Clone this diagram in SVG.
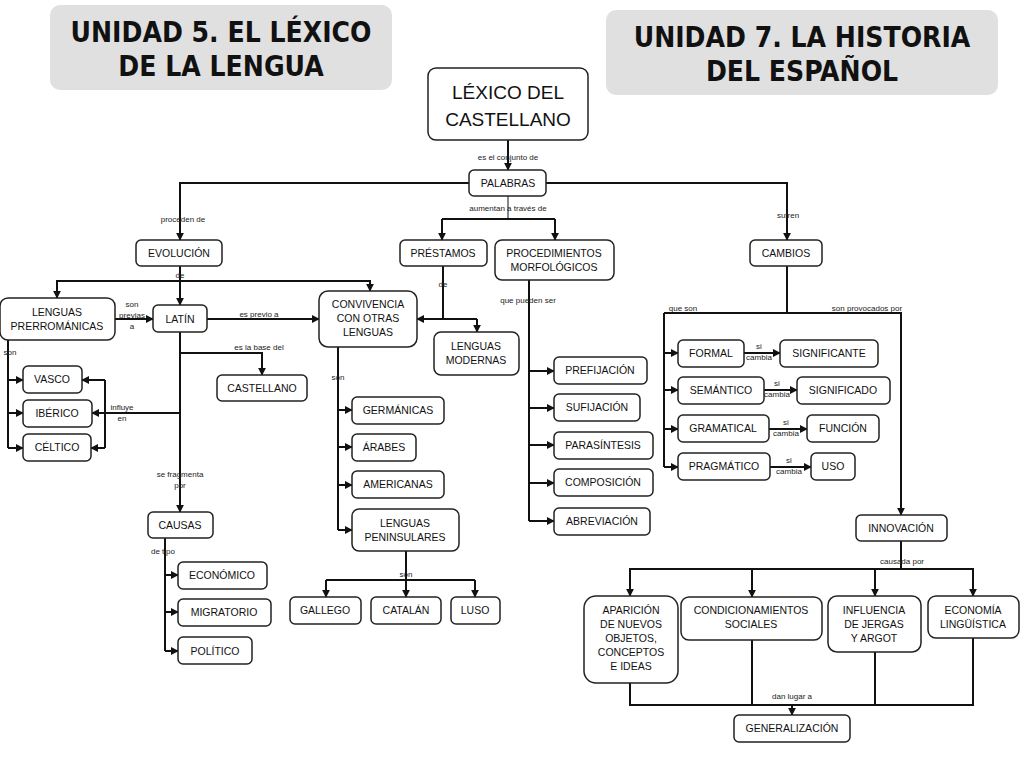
<svg xmlns="http://www.w3.org/2000/svg" width="1024" height="768" viewBox="0 0 1024 768">
<style>
.t{fill:#e0e0e0;stroke:none}
.tt{font-family:"DejaVu Sans Condensed","DejaVu Sans",sans-serif;font-weight:bold;font-size:28px;text-anchor:middle;fill:#111}
.n rect{fill:#fff;stroke:#222;stroke-width:1.5}
.n text{font-family:"Liberation Sans",Arial,sans-serif;font-size:10.5px;text-anchor:middle;fill:#111}
.big text{font-size:19px}
#c path{fill:none;stroke:#111;stroke-width:2}
#c .thin{stroke-width:1}
.l{font-family:"Liberation Sans",Arial,sans-serif;font-size:8px;text-anchor:middle;fill:#222}
</style>
<defs><marker id="a" viewBox="0 0 10 10" refX="9" refY="5" markerWidth="4" markerHeight="4" orient="auto"><path d="M0,0L10,5L0,10z" fill="#111"/></marker></defs>
<rect width="1024" height="768" fill="#fff"/>
<g id="title1"><rect class="t" x="50" y="5" width="342" height="85" rx="10"/><text class="tt" x="221" y="42">UNIDAD 5. EL LÉXICO</text><text class="tt" x="221" y="76">DE LA LENGUA</text></g>
<g id="title2"><rect class="t" x="606" y="10" width="392" height="85" rx="10"/><text class="tt" x="802" y="47">UNIDAD 7. LA HISTORIA</text><text class="tt" x="802" y="81">DEL ESPAÑOL</text></g>
<g id="c">
<path d="M508,140V170" marker-end="url(#a)"/>
<path d="M469,183H180V240" marker-end="url(#a)"/>
<path d="M546,183H787V240" marker-end="url(#a)"/>
<path class="thin" d="M508,196V219"/>
<path d="M442,219H555"/>
<path d="M442,219V240" marker-end="url(#a)"/>
<path d="M555,219V240" marker-end="url(#a)"/>
<path d="M180,266V305" marker-end="url(#a)"/>
<path d="M57,298V281H370V291" marker-end="url(#a)"/>
<path d="M57,281V298" marker-end="url(#a)"/>
<path d="M115,319H153" marker-end="url(#a)"/>
<path d="M207,319H319" marker-end="url(#a)"/>
<path d="M180,332V512" marker-end="url(#a)"/>
<path d="M180,353H262V375" marker-end="url(#a)"/>
<path d="M180,413H92" marker-end="url(#a)"/>
<path d="M105,380V448"/>
<path d="M105,380H82" marker-end="url(#a)"/>
<path d="M105,448H91" marker-end="url(#a)"/>
<path d="M8,340V448"/>
<path d="M8,380H23" marker-end="url(#a)"/>
<path d="M8,413H23" marker-end="url(#a)"/>
<path d="M8,448H23" marker-end="url(#a)"/>
<path d="M165,538V651"/>
<path d="M165,575H178" marker-end="url(#a)"/>
<path d="M165,612H178" marker-end="url(#a)"/>
<path d="M165,651H178" marker-end="url(#a)"/>
<path d="M338,347V530"/>
<path d="M338,410H352" marker-end="url(#a)"/>
<path d="M338,447H352" marker-end="url(#a)"/>
<path d="M338,485H352" marker-end="url(#a)"/>
<path d="M338,530H352" marker-end="url(#a)"/>
<path d="M406,551V597" marker-end="url(#a)"/>
<path d="M326,580H475"/>
<path d="M326,580V597" marker-end="url(#a)"/>
<path d="M475,580V597" marker-end="url(#a)"/>
<path d="M443,266V319"/>
<path d="M477,319H417" marker-end="url(#a)"/>
<path d="M477,319V332" marker-end="url(#a)"/>
<path d="M529,280V521"/>
<path d="M529,371H554" marker-end="url(#a)"/>
<path d="M529,408H554" marker-end="url(#a)"/>
<path d="M529,445H554" marker-end="url(#a)"/>
<path d="M529,483H554" marker-end="url(#a)"/>
<path d="M529,521H554" marker-end="url(#a)"/>
<path d="M787,266V313"/>
<path d="M664,313H901V515" marker-end="url(#a)"/>
<path d="M664,313V467"/>
<path d="M664,353H678" marker-end="url(#a)"/>
<path d="M664,390H678" marker-end="url(#a)"/>
<path d="M664,429H678" marker-end="url(#a)"/>
<path d="M664,467H678" marker-end="url(#a)"/>
<path d="M744,353H780" marker-end="url(#a)"/>
<path d="M764,390H797" marker-end="url(#a)"/>
<path d="M769,429H807" marker-end="url(#a)"/>
<path d="M770,467H811" marker-end="url(#a)"/>
<path d="M901,541V569"/>
<path d="M630,596V569H973V596" marker-end="url(#a)"/>
<path d="M630,569V596" marker-end="url(#a)"/>
<path d="M752,569V597" marker-end="url(#a)"/>
<path d="M875,569V596" marker-end="url(#a)"/>
<path d="M630,683V705H973V638"/>
<path d="M752,640V705"/>
<path d="M875,652V705"/>
<path d="M792,705V715" marker-end="url(#a)"/>
</g>
<g id="labels">
<text class="l" x="508" y="160">es el conjunto de</text>
<text class="l" x="183" y="222">proceden de</text>
<text class="l" x="788" y="218">sufren</text>
<text class="l" x="508" y="211">aumentan a través de</text>
<text class="l" x="180" y="278">de</text>
<text class="l" x="132" y="307">son</text><text class="l" x="132" y="318">previas</text><text class="l" x="132" y="329">a</text>
<text class="l" x="259" y="317">es previo a</text>
<text class="l" x="259" y="350">es la base del</text>
<text class="l" x="122" y="410">influye</text><text class="l" x="122" y="421">en</text>
<text class="l" x="10" y="355">son</text>
<text class="l" x="180" y="477">se fragmenta</text><text class="l" x="180" y="488">por</text>
<text class="l" x="163" y="554">de tipo</text>
<text class="l" x="338" y="380">son</text>
<text class="l" x="406" y="577">son</text>
<text class="l" x="443" y="287">de</text>
<text class="l" x="528" y="303">que pueden ser</text>
<text class="l" x="683" y="311">que son</text>
<text class="l" x="867" y="311">son provocados por</text>
<text class="l" x="759" y="349">si</text><text class="l" x="759" y="360">cambia</text>
<text class="l" x="777" y="386">si</text><text class="l" x="777" y="397">cambia</text>
<text class="l" x="786" y="425">si</text><text class="l" x="786" y="436">cambia</text>
<text class="l" x="789" y="463">si</text><text class="l" x="789" y="474">cambia</text>
<text class="l" x="902" y="564">causada por</text>
<text class="l" x="792" y="699">dan lugar a</text>
</g>
<g id="lexico" class="n big"><rect x="428" y="68" width="160" height="72" rx="8"/><text x="508" y="99">LÉXICO DEL</text><text x="508" y="126">CASTELLANO</text></g>
<g id="palabras" class="n"><rect x="469" y="170" width="77" height="26" rx="5"/><text x="508" y="187">PALABRAS</text></g>
<g id="evolucion" class="n"><rect x="136" y="240" width="86" height="26" rx="5"/><text x="179" y="257">EVOLUCIÓN</text></g>
<g id="prestamos" class="n"><rect x="400" y="240" width="87" height="26" rx="5"/><text x="443" y="257">PRÉSTAMOS</text></g>
<g id="procedimientos" class="n"><rect x="495" y="240" width="119" height="40" rx="7"/><text x="554" y="257">PROCEDIMIENTOS</text><text x="554" y="271">MORFOLÓGICOS</text></g>
<g id="cambios" class="n"><rect x="750" y="240" width="72" height="26" rx="5"/><text x="786" y="257">CAMBIOS</text></g>
<g id="prerromanicas" class="n"><rect x="0" y="298" width="115" height="42" rx="8"/><text x="57" y="316">LENGUAS</text><text x="57" y="330">PRERROMÁNICAS</text></g>
<g id="latin" class="n"><rect x="153" y="305" width="54" height="27" rx="5"/><text x="180" y="323">LATÍN</text></g>
<g id="convivencia" class="n"><rect x="319" y="291" width="98" height="56" rx="9"/><text x="368" y="308">CONVIVENCIA</text><text x="368" y="322">CON OTRAS</text><text x="368" y="336">LENGUAS</text></g>
<g id="modernas" class="n"><rect x="434" y="332" width="85" height="43" rx="7"/><text x="476" y="350">LENGUAS</text><text x="476" y="364">MODERNAS</text></g>
<g id="castellano" class="n"><rect x="217" y="375" width="90" height="26" rx="5"/><text x="262" y="392">CASTELLANO</text></g>
<g id="vasco" class="n"><rect x="23" y="366" width="59" height="27" rx="5"/><text x="52" y="383">VASCO</text></g>
<g id="iberico" class="n"><rect x="23" y="400" width="69" height="27" rx="5"/><text x="57" y="417">IBÉRICO</text></g>
<g id="celtico" class="n"><rect x="23" y="434" width="68" height="27" rx="5"/><text x="57" y="451">CÉLTICO</text></g>
<g id="causas" class="n"><rect x="148" y="512" width="65" height="26" rx="5"/><text x="180" y="529">CAUSAS</text></g>
<g id="economico" class="n"><rect x="178" y="562" width="89" height="27" rx="5"/><text x="222" y="579">ECONÓMICO</text></g>
<g id="migratorio" class="n"><rect x="178" y="599" width="93" height="27" rx="5"/><text x="224" y="616">MIGRATORIO</text></g>
<g id="politico" class="n"><rect x="178" y="637" width="74" height="27" rx="5"/><text x="215" y="655">POLÍTICO</text></g>
<g id="germanicas" class="n"><rect x="352" y="397" width="92" height="27" rx="5"/><text x="398" y="414">GERMÁNICAS</text></g>
<g id="arabes" class="n"><rect x="352" y="434" width="64" height="27" rx="5"/><text x="384" y="451">ÁRABES</text></g>
<g id="americanas" class="n"><rect x="352" y="471" width="92" height="27" rx="5"/><text x="398" y="488">AMERICANAS</text></g>
<g id="peninsulares" class="n"><rect x="352" y="509" width="107" height="42" rx="7"/><text x="405" y="527">LENGUAS</text><text x="405" y="541">PENINSULARES</text></g>
<g id="gallego" class="n"><rect x="290" y="597" width="71" height="27" rx="5"/><text x="325" y="614">GALLEGO</text></g>
<g id="catalan" class="n"><rect x="371" y="597" width="70" height="27" rx="5"/><text x="406" y="614">CATALÁN</text></g>
<g id="luso" class="n"><rect x="451" y="597" width="49" height="27" rx="5"/><text x="475" y="614">LUSO</text></g>
<g id="prefijacion" class="n"><rect x="554" y="357" width="93" height="27" rx="5"/><text x="600" y="374">PREFIJACIÓN</text></g>
<g id="sufijacion" class="n"><rect x="554" y="394" width="86" height="27" rx="5"/><text x="597" y="411">SUFIJACIÓN</text></g>
<g id="parasintesis" class="n"><rect x="554" y="432" width="99" height="27" rx="5"/><text x="603" y="449">PARASÍNTESIS</text></g>
<g id="composicion" class="n"><rect x="554" y="469" width="99" height="27" rx="5"/><text x="603" y="486">COMPOSICIÓN</text></g>
<g id="abreviacion" class="n"><rect x="554" y="508" width="96" height="27" rx="5"/><text x="602" y="525">ABREVIACIÓN</text></g>
<g id="formal" class="n"><rect x="678" y="340" width="66" height="27" rx="5"/><text x="711" y="357">FORMAL</text></g>
<g id="semantico" class="n"><rect x="678" y="377" width="86" height="27" rx="5"/><text x="721" y="394">SEMÁNTICO</text></g>
<g id="gramatical" class="n"><rect x="678" y="415" width="91" height="27" rx="5"/><text x="723" y="432">GRAMATICAL</text></g>
<g id="pragmatico" class="n"><rect x="678" y="453" width="92" height="27" rx="5"/><text x="724" y="470">PRAGMÁTICO</text></g>
<g id="significante" class="n"><rect x="780" y="340" width="98" height="27" rx="5"/><text x="829" y="357">SIGNIFICANTE</text></g>
<g id="significado" class="n"><rect x="797" y="377" width="93" height="27" rx="5"/><text x="843" y="394">SIGNIFICADO</text></g>
<g id="funcion" class="n"><rect x="807" y="415" width="72" height="27" rx="5"/><text x="843" y="432">FUNCIÓN</text></g>
<g id="uso" class="n"><rect x="811" y="453" width="44" height="27" rx="5"/><text x="833" y="470">USO</text></g>
<g id="innovacion" class="n"><rect x="856" y="515" width="91" height="26" rx="5"/><text x="901" y="532">INNOVACIÓN</text></g>
<g id="aparicion" class="n"><rect x="584" y="596" width="94" height="87" rx="12"/><text x="631" y="614">APARICIÓN</text><text x="631" y="628">DE NUEVOS</text><text x="631" y="642">OBJETOS,</text><text x="631" y="656">CONCEPTOS</text><text x="631" y="670">E IDEAS</text></g>
<g id="condicionamientos" class="n"><rect x="681" y="597" width="141" height="43" rx="8"/><text x="751" y="614">CONDICIONAMIENTOS</text><text x="751" y="628">SOCIALES</text></g>
<g id="influencia" class="n"><rect x="828" y="596" width="93" height="56" rx="9"/><text x="874" y="614">INFLUENCIA</text><text x="874" y="628">DE JERGAS</text><text x="874" y="642">Y ARGOT</text></g>
<g id="economia" class="n"><rect x="928" y="596" width="91" height="42" rx="8"/><text x="973" y="614">ECONOMÍA</text><text x="973" y="628">LINGÜÍSTICA</text></g>
<g id="generalizacion" class="n"><rect x="734" y="715" width="116" height="27" rx="5"/><text x="792" y="732">GENERALIZACIÓN</text></g>
</svg>
